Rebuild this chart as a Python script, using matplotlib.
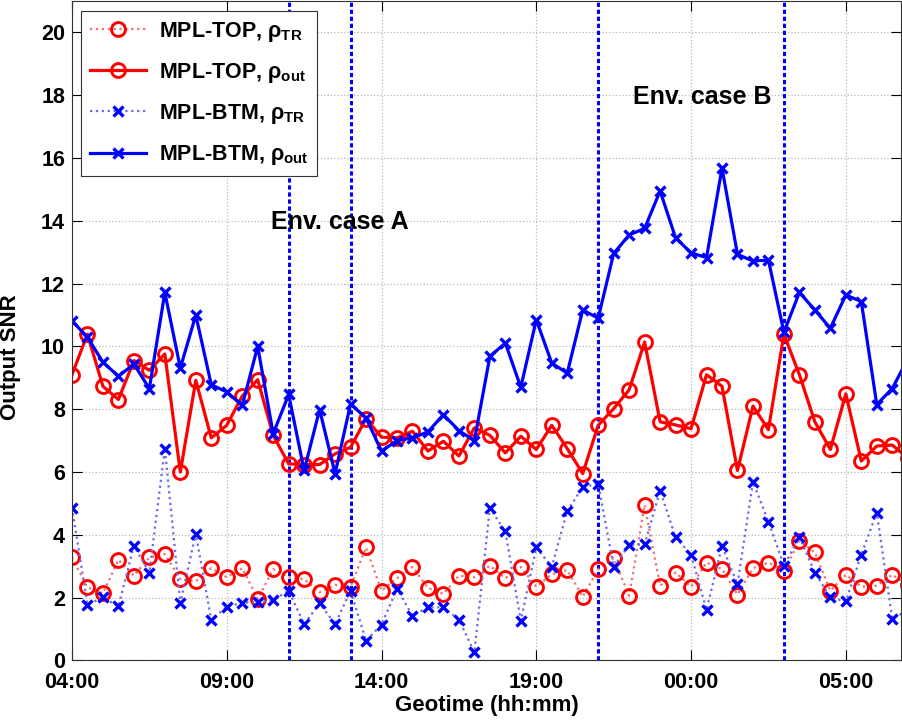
import matplotlib
matplotlib.use("Agg")
import matplotlib.pyplot as plt
import numpy as np

# half-hour samples, hours counted from 04:00
STEP_H = 0.5

top_tr = [3.28, 2.33, 2.14, 3.20, 2.70, 3.28, 3.39, 2.59, 2.52, 2.94,
          2.65, 2.94, 1.96, 2.91, 2.65, 2.59, 2.17, 2.41, 2.35, 3.60,
          2.22, 2.62, 2.98, 2.31, 2.12, 2.70, 2.65, 3.02, 2.62, 2.98,
          2.35, 2.75, 2.88, 2.03, 2.91, 3.26, 2.06, 4.95, 2.38, 2.80,
          2.35, 3.12, 2.91, 2.10, 2.94, 3.12, 2.86, 3.81, 3.44, 2.22,
          2.73, 2.35, 2.38, 2.73, 2.40]
top_out = [9.10, 10.39, 8.73, 8.31, 9.55, 9.24, 9.76, 6.00, 8.92, 7.09,
           7.49, 8.42, 8.94, 7.17, 6.26, 6.24, 6.24, 6.58, 6.79, 7.70,
           7.11, 7.09, 7.30, 6.67, 6.98, 6.51, 7.41, 7.17, 6.61, 7.14,
           6.72, 7.49, 6.75, 5.95, 7.49, 8.02, 8.62, 10.14, 7.60, 7.50,
           7.38, 9.10, 8.73, 6.05, 8.10, 7.35, 10.39, 9.10, 7.60, 6.72,
           8.49, 6.35, 6.83, 6.86, 6.45]
btm_tr = [4.87, 1.78, 2.01, 1.72, 3.65, 2.80, 6.75, 1.82, 4.04, 1.29,
          1.71, 1.84, 1.85, 1.93, 2.22, 1.16, 1.82, 1.16, 2.22, 0.63,
          1.14, 2.28, 1.43, 1.69, 1.69, 1.30, 0.26, 4.85, 4.11, 1.27,
          3.60, 2.98, 4.76, 5.52, 5.63, 2.98, 3.68, 3.70, 5.41, 3.92,
          3.37, 1.61, 3.65, 2.43, 5.69, 4.42, 3.02, 3.92, 2.80, 2.01,
          1.88, 3.37, 4.71, 1.32, 1.60]
btm_out = [10.82, 10.29, 9.50, 9.05, 9.44, 8.66, 11.72, 9.31, 11.00, 8.78,
           8.55, 8.12, 10.00, 7.22, 8.47, 6.05, 7.99, 5.95, 8.17, 7.72,
           6.67, 7.00, 7.09, 7.28, 7.83, 7.32, 7.00, 9.68, 10.11, 8.70,
           10.85, 9.47, 9.15, 11.16, 10.90, 12.96, 13.55, 13.76, 14.95, 13.46,
           12.98, 12.83, 15.68, 12.93, 12.72, 12.75, 10.45, 11.72, 11.16, 10.58,
           11.64, 11.43, 8.15, 8.66, 9.60]

tick_hours = [0, 5, 10, 15, 20, 25]
tick_labels = ['04:00', '09:00', '14:00', '19:00', '00:00', '05:00']
case_bounds = [7, 9, 17, 23]   # 11:00, 13:00, 21:00, 03:00

t = np.arange(len(top_out)) * STEP_H

plt.rcParams['font.family'] = ['Liberation Sans', 'DejaVu Sans']
plt.rcParams['font.weight'] = 'bold'
plt.rcParams['mathtext.fontset'] = 'custom'
plt.rcParams['mathtext.rm'] = 'Liberation Sans:bold'
plt.rcParams['mathtext.it'] = 'Liberation Sans:bold'
plt.rcParams['mathtext.bf'] = 'Liberation Sans:bold'

fig = plt.figure(figsize=(9.02, 7.22), dpi=100)
ax = fig.add_axes([0.0798, 0.0852, 0.919, 0.9134])

# thin dotted traces first, thick ones on top
ax.plot(t, top_tr, linestyle=':', color='#f07070', linewidth=1.6,
        marker='o', markersize=10, markerfacecolor='none',
        markeredgecolor='red', markeredgewidth=2.1,
        label=r'MPL-TOP, $\rho_{TR}$')
ax.plot(t, top_out, linestyle='-', color='red', linewidth=2.3,
        marker='o', markersize=10, markerfacecolor='none',
        markeredgecolor='red', markeredgewidth=2.1,
        label=r'MPL-TOP, $\rho_{out}$')
ax.plot(t, btm_tr, linestyle=':', color='#6a6ae8', linewidth=1.6,
        marker='x', markersize=7, markeredgecolor='blue', markeredgewidth=2.4,
        label=r'MPL-BTM, $\rho_{TR}$')
ax.plot(t, btm_out, linestyle='-', color='blue', linewidth=2.3,
        marker='x', markersize=7, markeredgecolor='blue', markeredgewidth=2.4,
        label=r'MPL-BTM, $\rho_{out}$')

for xb in case_bounds:
    ax.axvline(xb, color='blue', linewidth=2.2, linestyle=(0, (1.4, 0.9)), zorder=1)

ax.text(8.66, 13.95, 'Env. case A', fontsize=18, fontweight='bold',
        ha='center', va='center')
ax.text(20.35, 17.95, 'Env. case B', fontsize=18, fontweight='bold',
        ha='center', va='center')

ax.set_xlim(0, 26.78)
ax.set_ylim(0, 21)
ax.set_xticks(tick_hours)
ax.set_xticklabels(tick_labels)
ax.set_yticks(np.arange(0, 21, 2))
ax.grid(True, linestyle=':', color='#b8b8b8', linewidth=0.9)
ax.set_axisbelow(True)
ax.tick_params(direction='in', length=7, width=0.8, top=True, right=True,
               labelsize=15.5)
ax.tick_params(axis='x', pad=8)
ax.tick_params(axis='y', pad=5)
for lab in ax.get_xticklabels() + ax.get_yticklabels():
    lab.set_fontweight('bold')
for sp in ax.spines.values():
    sp.set_linewidth(0.8)
    sp.set_color('#333333')

ax.set_xlabel('Geotime (hh:mm)', fontsize=16, fontweight='bold', labelpad=2)
ax.set_ylabel('Output SNR', fontsize=16, fontweight='bold')
ax.yaxis.set_label_coords(-0.062, 0.46)

leg = ax.legend(loc='upper left', bbox_to_anchor=(0.011, 0.985),
                borderaxespad=0, fontsize=15.5, handlelength=2.6,
                handletextpad=0.6, labelspacing=0.8, fancybox=False,
                framealpha=1, edgecolor='#333333')
leg.get_frame().set_linewidth(0.8)

fig.savefig('out.png', dpi=100)
